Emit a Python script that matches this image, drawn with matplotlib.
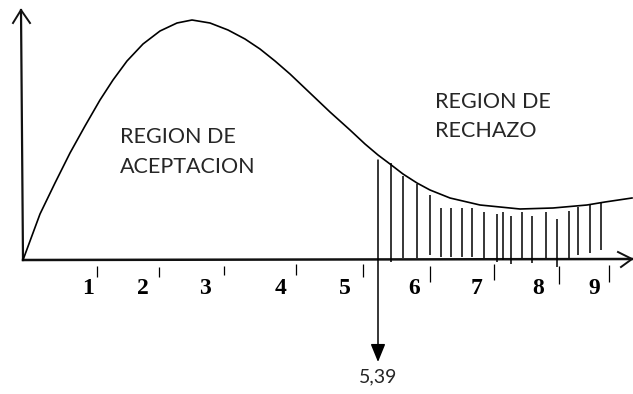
import numpy as np
import matplotlib.pyplot as plt

# curve (origin at the corner of the axes)
curva_x = [0, 17, 32, 47, 62, 77, 90, 104, 120, 137, 154, 169, 187, 205, 222, 237, 252, 267,
           287, 307, 327, 342, 355, 367, 380, 394, 407, 427, 457, 497, 530, 564, 582, 609]
curva_y = [0, 46, 77, 107, 134, 160, 180, 199, 216, 229, 237, 240, 237, 230, 221, 211, 199, 186,
           167, 148, 130, 116, 105, 96, 86, 77, 70, 62, 55, 51, 52, 55, 58, 62]

# rayado de la region de rechazo
rayas_x = [368, 380, 394, 407, 418, 428, 439, 449, 461, 474, 480, 488, 499, 509, 523, 534, 546, 555, 567, 578]
rayas_sup = [97, 84, 76, 65, 52, 52, 52, 52, 48, 46, 48, 44, 48, 44, 48, 41, 49, 53, 55, 58]
rayas_inf = [-2, 2, 2, 5, 3, 3, 3, 3, 2, -2, 0, -4, 2, -3, 2, -7, 2, 5, 7, 10]

# valor critico
critico_x = 355
critico_sup = 100
critico_inf = -102
critico_txt = "5,39"

# escala del eje x
etiquetas = ["1", "2", "3", "4", "5", "6", "7", "8", "9"]
etiq_x = [65, 120, 182, 258, 322, 391, 454, 515, 571]
marca_x = [74, 136, 201, 273, 340, 407, 471, 536, 586]
marca_sup = [-6, -7, -6, -4, -4, -6, -4, -6, -5]
marca_inf = [-17, -17, -15, -15, -17, -22, -20, -24, -22]

# ejes
eje_y = ([0, -2], [0, 250])
flecha_y = ([-10, -2, 7], [237, 250, 237])
eje_x = ([0, 609], [0, 1])
flecha_x = ([595, 609, 598], [8, 1, -7])

fig = plt.figure(figsize=(6.33, 3.94), dpi=100)
ax = fig.add_axes([0, 0, 1, 1])
ax.set_xlim(-23, 610)
ax.set_ylim(-134, 260)
ax.axis('off')

ax.plot(*eje_y, color='#111111', lw=1.6)
ax.plot(*flecha_y, color='#111111', lw=1.4)
ax.plot(*eje_x, color='#111111', lw=1.8)
ax.plot(*flecha_x, color='#111111', lw=1.4)

ax.plot(curva_x, curva_y, color='black', lw=1.2, solid_joinstyle='round')

ax.vlines(rayas_x, rayas_inf, rayas_sup, color='black', lw=1.1)

ax.annotate('', xy=(critico_x, critico_inf), xytext=(critico_x, critico_sup),
            arrowprops=dict(arrowstyle='-|>,head_length=1.1,head_width=0.45',
                            color='black', lw=1.1, shrinkA=0, shrinkB=0))
ax.text(critico_x, critico_inf - 6, critico_txt, ha='center', va='top',
        fontsize=14, family='Lato', color='#262626')

for x, t in zip(etiq_x, etiquetas):
    ax.text(x, -28, t, ha='center', va='center', fontsize=17,
            family='Liberation Serif', fontweight='bold', color='black')
ax.vlines(marca_x, marca_inf, marca_sup, color='black', lw=0.9)

estilo = dict(fontsize=15.5, family='Lato', color='#262626')
ax.text(97, 117, "REGION DE", **estilo)
ax.text(97, 87, "ACEPTACION", **estilo)
ax.text(412, 152, "REGION DE", **estilo)
ax.text(412, 123, "RECHAZO", **estilo)

fig.savefig('out.png', dpi=100)
